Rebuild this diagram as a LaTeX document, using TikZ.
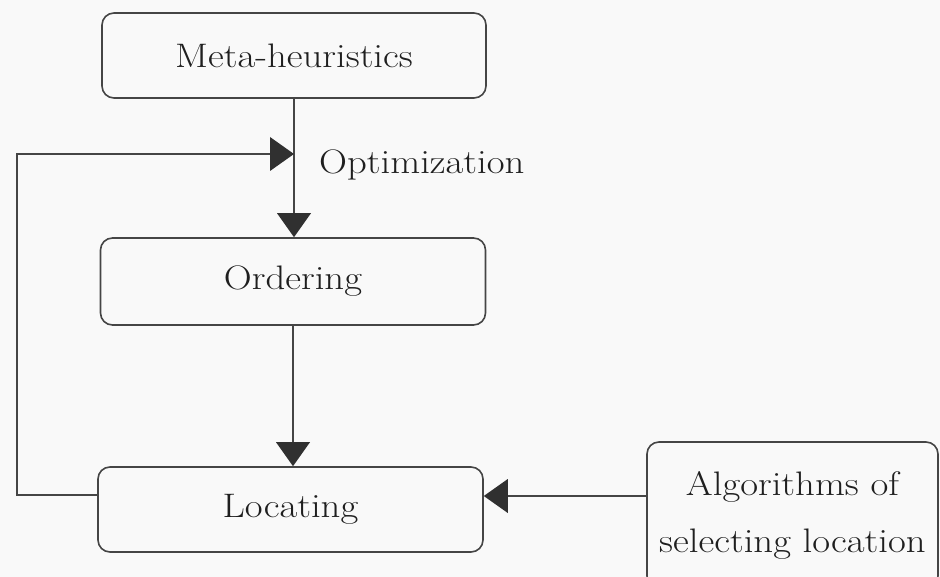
\documentclass[tikz,border=0pt]{standalone}
\usepackage{fontspec}
\setmainfont{Latin Modern Roman}[FakeStretch=1.14]
\usetikzlibrary{arrows.meta}
\definecolor{linec}{HTML}{454545}
\definecolor{headc}{HTML}{303030}
\definecolor{bgc}{HTML}{F9F9F9}
\tikzset{
  box/.style={draw=linec, line width=1.6pt, rounded corners=12pt, inner sep=0pt,
    font=\fontsize{34}{57}\selectfont, text=black!88, align=center},
  arr/.style={draw=linec, line width=1.6pt,
    -{Triangle[length=24pt,width=34pt,fill=headc,line width=0pt]}},
}
\begin{document}
\begin{tikzpicture}[x=1pt,y=-1pt]
\useasboundingbox (0,0) rectangle (940,577);
\clip (0,0) rectangle (940,577);
\fill[bgc] (0,0) rectangle (940,577);
\node[box, minimum width=384pt, minimum height=85pt] (meta) at (294,55.5) {Meta-heuristics};
\node[box, minimum width=385pt, minimum height=87pt] (ord) at (293,281.5) {Ordering};
\node[box, minimum width=385pt, minimum height=85pt] (loc) at (290.5,509.5) {Locating};
\node[box, minimum width=291pt, minimum height=146pt] (alg) at (792.5,515) {Algorithms of\\selecting location};
\node[font=\fontsize{34}{40}\selectfont, text=black!88, anchor=west, inner sep=0pt] (opt) at (319,165) {Optimization};
\coordinate (fb) at (17,154);
\coordinate (lp) at ([yshift=13.5pt]loc.east);
\draw[arr] (meta.south) -- (meta.south |- ord.north);
\draw[arr] (ord.south) -- (ord.south |- loc.north);
\draw[arr] ([yshift=14.5pt]loc.west) -| (fb) -- (fb -| meta.south);
\draw[arr] (alg.west |- lp) -- (lp);
\end{tikzpicture}
\end{document}
